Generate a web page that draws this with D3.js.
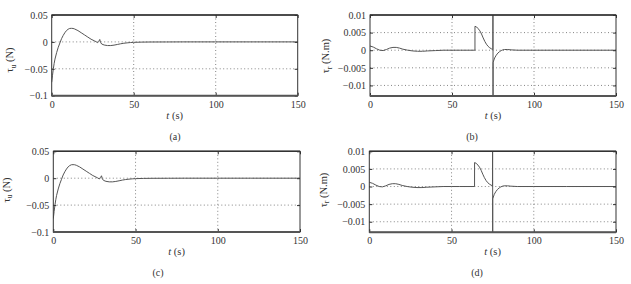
<!DOCTYPE html>
<html>
<head>
<meta charset="utf-8">
<script src="https://cdn.jsdelivr.net/npm/d3@7"></script>
<style>
  body { margin: 0; background: #fff; }
  text { font-family: "Liberation Serif", "DejaVu Serif", serif; fill: #333; }
</style>
</head>
<body>
<div id="chart"></div>
<script>
// surge force tau_u (N), panels (a) and (c)
var tauUTime = [0, 0.5, 1, 1.5, 2, 3, 4, 5, 6, 7, 8, 9, 10, 11, 12, 13, 14, 16, 18, 20, 22, 24, 26, 27, 28, 28.7, 29.3, 29.8, 30.5, 32, 34, 36, 38, 40, 42, 44, 46, 48, 50, 55, 60, 70, 80, 100, 120, 150];
var tauUValue = [-0.075, -0.062, -0.05, -0.04, -0.032, -0.02, -0.01, -0.002, 0.006, 0.012, 0.017, 0.021, 0.0235, 0.025, 0.0252, 0.025, 0.024, 0.021, 0.017, 0.013, 0.009, 0.005, 0.002, 0.0005, -0.0015, 0.001, 0.0045, -0.001, -0.004, -0.0058, -0.0068, -0.0068, -0.006, -0.0048, -0.0035, -0.0025, -0.0018, -0.0012, -0.0008, -0.0004, -0.0002, -0.0001, 0, 0, 0, 0];

// yaw moment tau_r (N.m), panels (b) and (d)
var tauRTime = [0, 2, 4, 6, 8, 10, 12, 14, 16, 18, 20, 23, 26, 29, 32, 35, 40, 45, 50, 55, 60, 64, 64.01, 65, 66, 67, 68, 69, 70, 71, 72, 73, 74, 74.9, 75, 75.02, 75.04, 75.1, 76, 77, 78, 79, 80, 81, 82, 84, 86, 90, 100, 120, 150];
var tauRValue = [0.0012, 0.0009, 0.0004, 0.0000, -0.0001, 0.0002, 0.0006, 0.0008, 0.0008, 0.0006, 0.0003, 0.0000, -0.0002, -0.0003, -0.0003, -0.0002, -0.0001, 0, 0, 0, 0, 0, 0.0068, 0.0066, 0.0061, 0.0055, 0.0046, 0.0035, 0.0025, 0.0017, 0.0011, 0.0007, 0.0004, 0.0002, 0.05, -0.05, -0.0036, -0.0034, -0.0022, -0.0014, -0.0008, -0.0004, -0.0001, 0.0001, 0.0002, 0.0002, 0.0001, 0, 0, 0, 0];

var xTicks = [0, 50, 100, 150];
var tauUTicks = [-0.1, -0.05, 0, 0.05];
var tauRTicks = [-0.01, -0.005, 0, 0.005, 0.01];
var tauUTickLabels = ["\u22120.1", "\u22120.05", "0", "0.05"];
var tauRTickLabels = ["\u22120.01", "\u22120.005", "0", "0.005", "0.01"];

var panels = [
  { box: [51.7, 15, 297.7, 95.7], t: tauUTime, v: tauUValue, dom: [-0.1, 0.05], ticks: tauUTicks, labels: tauUTickLabels, sub: "u", unit: " (N)", ylab: [9.5, 60], cap: "(a)", capX: 175 },
  { box: [370, 15, 616, 96], t: tauRTime, v: tauRValue, dom: [-0.013, 0.01], ticks: tauRTicks, labels: tauRTickLabels, sub: "r", unit: " (N.m)", ylab: [325.5, 56], cap: "(b)", capX: 472 },
  { box: [53.3, 151.3, 300, 232], t: tauUTime, v: tauUValue, dom: [-0.1, 0.05], ticks: tauUTicks, labels: tauUTickLabels, sub: "u", unit: " (N)", ylab: [6, 190], cap: "(c)", capX: 158 },
  { box: [369.3, 151.3, 616, 232.3], t: tauRTime, v: tauRValue, dom: [-0.013, 0.01], ticks: tauRTicks, labels: tauRTickLabels, sub: "r", unit: " (N.m)", ylab: [323, 190], cap: "(d)", capX: 477 }
];

var svg = d3.select("#chart")
  .append("svg")
  .attr("width", 631)
  .attr("height", 284);

panels.forEach(function (p, i) {
  var left = p.box[0], top = p.box[1], w = p.box[2] - p.box[0], h = p.box[3] - p.box[1];
  var g = svg.append("g").attr("transform", "translate(" + left + "," + top + ")");

  var x = d3.scaleLinear().domain([0, 150]).range([0, w]);
  var y = d3.scaleLinear().domain(p.dom).range([h, 0]);

  // dotted grid
  g.selectAll(".gx").data(xTicks.slice(1, -1)).enter().append("line")
    .attr("x1", function (d) { return x(d); }).attr("x2", function (d) { return x(d); })
    .attr("y1", 0).attr("y2", h)
    .attr("stroke", "#777").attr("stroke-width", 0.9).attr("stroke-dasharray", "1,2.5");
  g.selectAll(".gy").data(p.ticks.filter(function (d) { return y(d) > 1 && y(d) < h - 1; })).enter().append("line")
    .attr("x1", 0).attr("x2", w)
    .attr("y1", function (d) { return y(d); }).attr("y2", function (d) { return y(d); })
    .attr("stroke", "#777").attr("stroke-width", 0.9).attr("stroke-dasharray", "1,2.5");

  // curve
  var clipId = "clip" + i;
  g.append("clipPath").attr("id", clipId).append("rect").attr("width", w).attr("height", h);
  var pts = p.t.map(function (d, k) { return [d, p.v[k]]; });
  g.append("path")
    .datum(pts)
    .attr("clip-path", "url(#" + clipId + ")")
    .attr("fill", "none")
    .attr("stroke", "#555")
    .attr("stroke-width", 1)
    .attr("d", d3.line()
      .x(function (d) { return x(d[0]); })
      .y(function (d) { return y(d[1]); }));

  // axes with inward ticks
  var xa = g.append("g").attr("transform", "translate(0," + h + ")")
    .call(d3.axisBottom(x).tickValues(xTicks).tickSize(-3).tickPadding(5));
  var ya = g.append("g")
    .call(d3.axisLeft(y).tickValues(p.ticks).tickSize(-3).tickPadding(4)
      .tickFormat(function (d, k) { return p.labels[k]; }));
  g.append("g").attr("transform", "translate(" + w + ",0)")
    .call(d3.axisRight(y).tickValues(p.ticks).tickSize(-3).tickFormat(""));
  g.append("g")
    .call(d3.axisTop(x).tickValues(xTicks).tickSize(-3).tickFormat(""));
  g.selectAll(".domain").remove();
  g.selectAll(".tick line").attr("stroke", "#333");
  g.selectAll(".tick text").style("font-size", "10px").style("fill", "#333")
    .style("font-family", "'Liberation Serif', serif");

  // frame
  g.append("rect").attr("width", w).attr("height", h)
    .attr("fill", "none").attr("stroke", "#333").attr("stroke-width", 1);
  g.append("line").attr("x1", 0).attr("x2", w).attr("y1", 0).attr("y2", 0)
    .attr("stroke", "#333").attr("stroke-width", 1.6);
  g.append("line").attr("x1", 0).attr("x2", w).attr("y1", h).attr("y2", h)
    .attr("stroke", "#555").attr("stroke-width", 2);

  // x title
  var xt = g.append("text")
    .attr("x", w / 2).attr("y", h + 23)
    .attr("text-anchor", "middle")
    .style("font-size", "10.5px");
  xt.append("tspan").style("font-style", "italic").text("t");
  xt.append("tspan").text(" (s)");

  // caption
  svg.append("text")
    .attr("x", p.capX).attr("y", top + h + 44)
    .attr("text-anchor", "middle")
    .style("font-size", "10px")
    .text(p.cap);

  // y title
  var yt = svg.append("text")
    .attr("transform", "translate(" + p.ylab[0] + "," + p.ylab[1] + ") rotate(-90)")
    .attr("text-anchor", "middle")
    .attr("dy", "0.35em")
    .style("font-size", "10.5px");
  yt.append("tspan").text("\u03c4");
  yt.append("tspan").attr("dy", "2.5").style("font-size", "7.5px").text(p.sub);
  yt.append("tspan").attr("dy", "-2.5").text(p.unit);
});
</script>
</body>
</html>
